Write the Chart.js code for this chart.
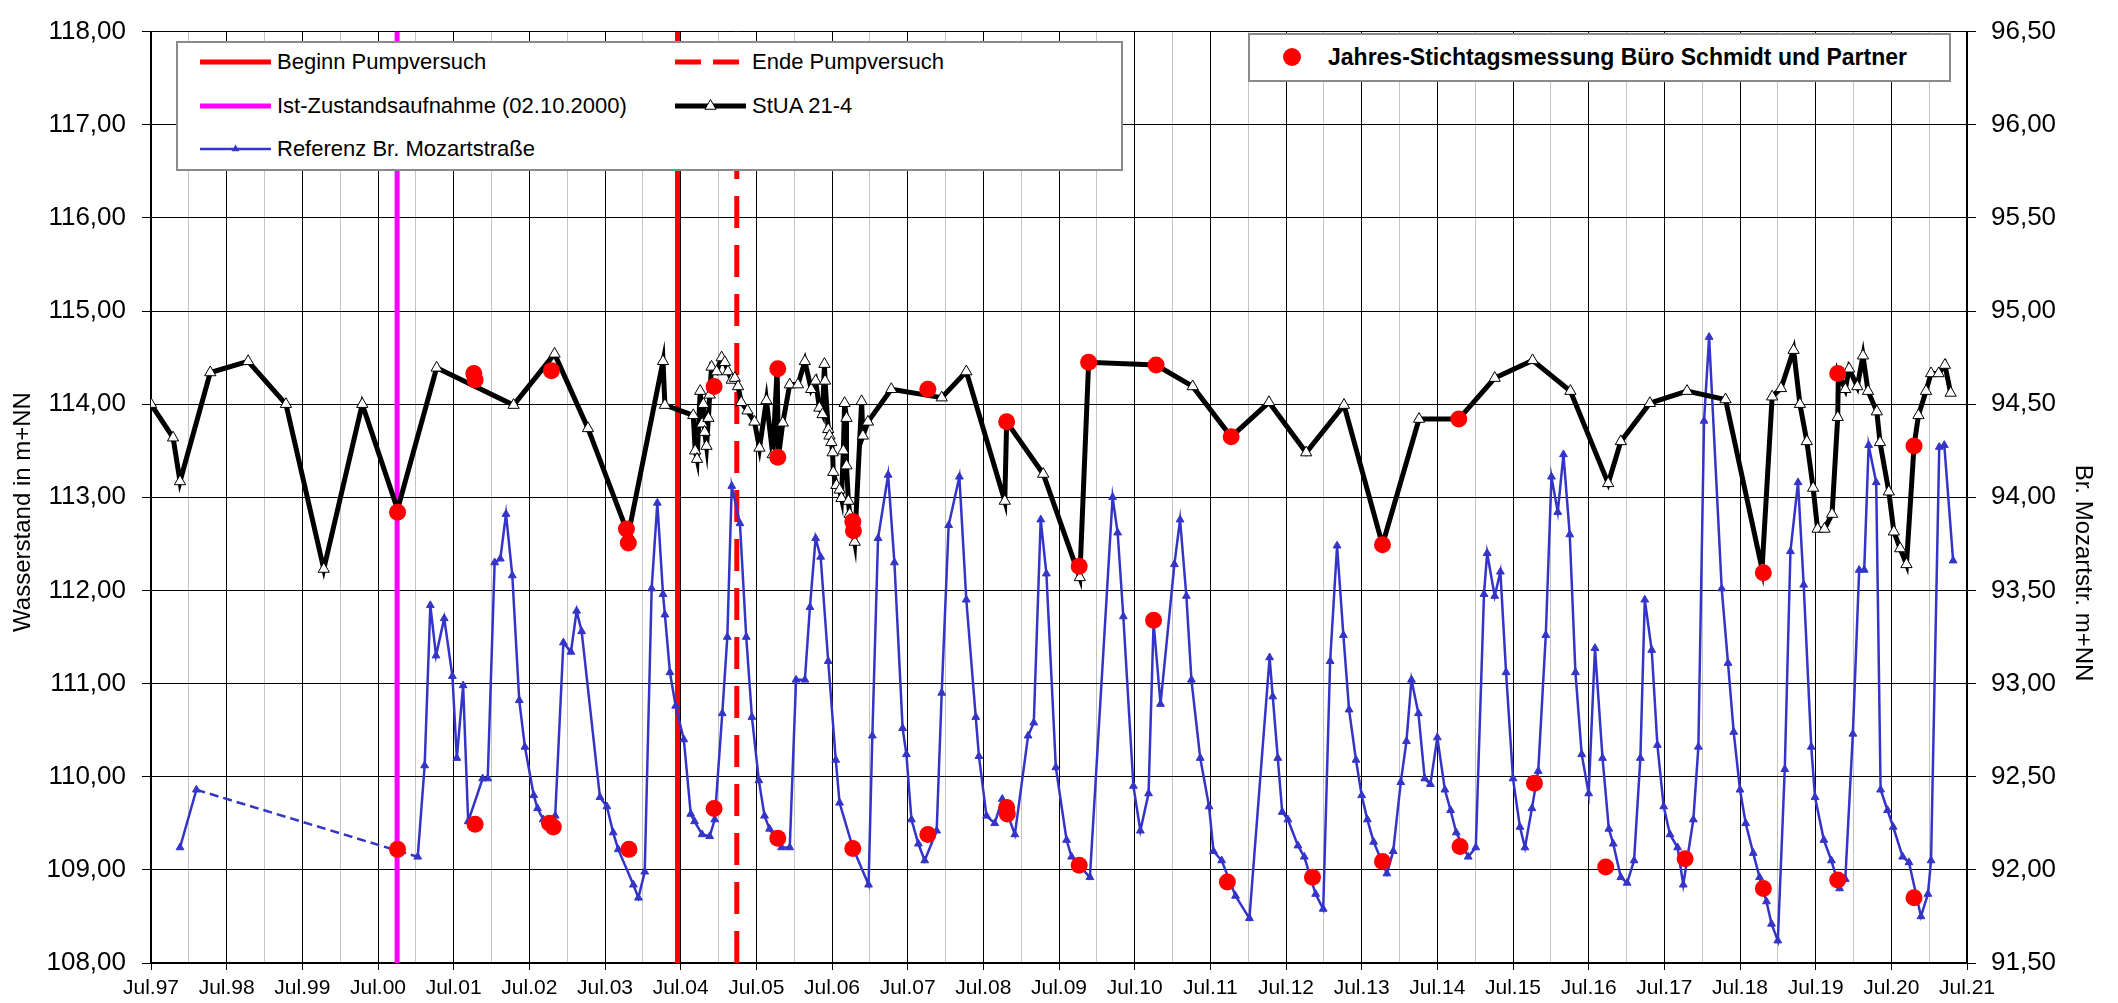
<!DOCTYPE html>
<html>
<head>
<meta charset="utf-8">
<script src="https://cdn.jsdelivr.net/npm/chart.js@4.4.1/dist/chart.umd.min.js"></script>
<style>
  body { margin: 0; background: #fff; font-family: "Liberation Sans", Arial, sans-serif; }
  #wrap { position: relative; width: 2118px; height: 1003px; }
  .box { position: absolute; background: #fff; border: 2px solid #8a8a8a; box-sizing: border-box; }
  .item { position: absolute; display: flex; align-items: center; height: 30px; font-size: 22px; white-space: nowrap; }
  .item svg { margin-right: 6px; }
</style>
</head>
<body>
<div id="wrap">
  <canvas id="chart" width="2118" height="1003"></canvas>
</div>
<script>
// x values are months counted from Jul.97
const yearLabels = ["Jul.97","Jul.98","Jul.99","Jul.00","Jul.01","Jul.02","Jul.03","Jul.04","Jul.05","Jul.06","Jul.07","Jul.08","Jul.09","Jul.10","Jul.11","Jul.12","Jul.13","Jul.14","Jul.15","Jul.16","Jul.17","Jul.18","Jul.19","Jul.20","Jul.21"];

// StUA 21-4 (left axis)
const stuaX = [0,3.5,4.6,9.4,15.4,21.4,27.4,33.5,39.1,45.3,
  57.5,64.0,69.3,75.7,81.2,81.5,86.0,86.3,86.6,87.1,
  87.4,87.6,87.8,88.1,88.4,88.6,88.9,89.7,90.5,91.0,
  91.5,92.1,92.6,93.1,93.6,94.6,95.7,96.5,97.6,98.6,
  99.3,99.5,100.2,101.3,102.6,103.7,104.7,105.4,106.0,106.5,
  106.8,106.9,107.4,107.6,107.9,108.1,108.2,108.7,109.2,109.5,
  109.8,110.0,110.3,110.3,110.6,110.8,111.6,112.7,112.9,113.7,
  117.4,125.4,129.3,135.4,135.7,141.5,147.3,148.7,159.4,165.2,
  171.3,177.3,183.2,189.2,195.3,201.1,207.4,213.1,219.1,225.1,
  231.1,233.1,237.7,243.6,249.7,255.5,257.1,258.5,260.5,261.5,
  262.6,263.6,264.3,265.4,266.6,267.5,267.6,268.7,269.3,270.6,
  271.5,272.3,273.7,274.2,275.6,276.4,277.4,278.4,279.6,280.3,
  281.5,282.3,283.5,284.5,285.4];
const stuaY = [114.0,113.64,113.17,114.34,114.46,114.0,112.23,114.0,112.87,114.39,
  113.99,114.54,113.74,112.6,114.46,113.99,113.88,113.5,113.41,114.14,
  113.79,114.0,113.7,113.55,113.85,114.1,114.4,114.35,114.5,114.45,
  114.35,114.26,114.28,114.19,114.02,113.93,113.81,113.53,114.04,113.46,
  114.38,113.43,113.8,114.21,114.21,114.46,114.16,114.25,113.96,113.89,
  114.43,114.25,113.73,113.66,113.59,113.48,113.27,113.13,113.08,112.99,
  113.5,114.01,113.85,113.34,112.96,112.82,112.52,114.03,113.66,113.81,
  114.16,114.07,114.35,112.96,113.81,113.25,112.14,114.45,114.42,114.19,
  113.65,114.02,113.48,113.99,112.49,113.84,113.84,114.28,114.47,114.14,
  113.15,113.6,114.01,114.14,114.05,112.23,114.08,114.17,114.58,114.0,
  113.6,113.1,112.66,112.66,112.82,113.86,114.33,114.16,114.38,114.19,
  114.52,114.14,113.92,113.59,113.06,112.63,112.45,112.28,113.55,113.88,
  114.14,114.33,114.33,114.42,114.12];

// Referenz Br. Mozartstrasse (right axis)
const refX = [4.6,7.2,42.3,43.4,44.3,45.2,46.5,47.8,48.5,49.5,
  50.3,52.6,53.4,54.5,55.4,56.3,57.3,58.4,59.3,60.7,
  61.3,62.2,63.0,64.1,65.4,66.6,67.5,68.3,71.2,72.3,
  73.3,74.1,76.5,77.3,78.3,79.4,80.3,81.2,81.5,82.3,
  83.2,84.5,85.6,86.2,87.4,88.6,89.4,90.6,91.4,92.1,
  93.4,94.4,95.3,96.4,97.3,98.1,100.0,101.3,102.3,103.7,
  104.5,105.4,106.2,107.4,108.6,109.2,111.3,113.8,114.4,115.3,
  116.9,117.9,119.2,119.8,120.6,121.7,122.7,124.6,125.4,126.5,
  128.2,129.3,130.8,131.3,132.5,133.8,135.0,137.0,139.1,140.0,
  141.1,142.0,143.5,145.2,146.0,148.9,152.5,153.3,154.2,155.8,
  156.9,158.2,159.0,160.1,162.3,163.2,164.2,165.0,166.4,167.8,
  168.5,169.8,172.0,174.2,177.4,177.9,178.7,179.4,180.3,181.9,
  182.9,184.7,185.9,187.0,188.1,189.1,190.0,191.1,192.0,192.9,
  193.9,196.0,197.0,198.2,199.1,199.9,201.0,202.0,202.9,204.0,
  205.2,206.1,207.0,208.9,210.1,211.4,211.9,213.1,214.0,214.9,
  216.0,217.1,217.9,219.0,220.0,221.2,222.1,223.1,224.0,225.0,
  225.9,226.9,228.0,229.0,230.2,231.2,231.9,233.1,234.1,235.2,
  236.2,236.9,238.0,238.9,239.9,240.9,242.1,243.0,244.6,245.4,
  246.3,247.1,249.1,250.1,251.0,252.0,252.9,254.1,255.1,256.2,
  257.0,258.0,259.1,260.0,261.2,262.1,263.3,263.9,265.3,266.5,
  267.8,268.7,269.9,270.9,271.7,272.4,273.6,274.3,275.4,276.3,
  277.8,278.8,280.7,281.8,282.3,283.6,284.4,285.8];
const refY = [92.12,92.43,92.07,92.56,93.42,93.15,93.35,93.04,92.60,92.99,
  92.26,92.49,92.49,93.65,93.67,93.91,93.58,92.91,92.66,92.40,
  92.33,92.27,92.26,92.29,93.22,93.17,93.39,93.28,92.39,92.34,
  92.20,92.11,91.92,91.85,91.99,93.51,93.97,93.48,93.37,93.06,
  92.88,92.70,92.30,92.26,92.19,92.18,92.27,92.84,93.25,94.06,
  93.86,93.25,92.82,92.48,92.29,92.22,92.12,92.12,93.02,93.02,
  93.41,93.78,93.68,93.12,92.59,92.36,92.12,91.92,92.72,93.78,
  94.12,93.65,92.76,92.62,92.27,92.14,92.05,92.21,92.95,93.85,
  94.11,93.45,92.82,92.61,92.29,92.25,92.38,92.19,92.72,92.79,
  93.88,93.59,92.55,92.16,92.07,91.96,94.00,93.81,93.36,92.45,
  92.21,92.41,93.33,92.89,93.64,93.88,93.47,93.02,92.60,92.34,
  92.10,92.05,91.86,91.74,93.14,92.93,92.60,92.31,92.27,92.13,
  92.07,91.87,91.79,93.12,93.74,93.26,92.86,92.59,92.40,92.27,
  92.15,91.98,92.10,92.47,92.69,93.02,92.84,92.49,92.46,92.71,
  92.43,92.32,92.20,92.07,92.12,93.48,93.70,93.47,93.60,93.06,
  92.49,92.23,92.12,92.33,92.53,93.26,94.11,93.92,94.23,93.80,
  93.06,92.62,92.41,93.19,92.60,92.22,92.14,91.96,91.93,92.05,
  92.60,93.45,93.18,92.67,92.34,92.19,92.12,91.92,92.27,92.66,
  94.41,94.86,93.51,93.11,92.74,92.43,92.25,92.09,91.96,91.83,
  91.71,91.62,92.54,93.71,94.08,93.53,92.66,92.39,92.16,92.05,
  91.90,91.95,92.73,93.61,93.61,94.28,94.08,92.43,92.32,92.23,
  92.07,92.04,91.75,91.87,92.05,94.27,94.28,93.66];

// Jahres-Stichtagsmessung (left axis)
const stichX = [39.1,39.1,51.2,51.4,51.4,63.5,63.2,63.8,75.4,75.7,
  75.8,89.3,89.3,99.4,99.4,99.4,111.3,111.4,111.3,123.2,
  123.2,135.7,135.7,135.8,147.2,147.2,148.7,159.4,159.0,171.3,
  170.7,184.2,195.3,195.3,207.4,207.6,219.4,230.7,243.3,255.7,
  255.7,267.5,267.5,279.6,279.6];
const stichY = [112.84,109.22,114.33,114.26,109.49,114.36,109.5,109.46,112.66,112.51,
  109.22,114.19,109.66,114.38,113.43,109.34,112.74,112.64,109.23,114.16,
  109.38,113.81,109.67,109.6,112.26,109.05,114.45,114.42,111.68,113.65,
  108.87,108.92,112.49,109.09,113.84,109.25,109.93,109.03,109.12,112.19,
  108.8,114.33,108.89,113.55,108.7];

// event dates (months from Jul.97)
const istZustand = 39.03;
const beginnPump = 83.5;
const endePump = 92.9;

const pts = (xs, ys) => xs.map((x, i) => ({ x: x, y: ys[i] }));
const vline = (m) => [{ x: m, y: 108 }, { x: m, y: 118 }];
const deComma = (v) => v.toFixed(2).replace(".", ",");

Chart.defaults.font.family = '"Liberation Sans", Arial, sans-serif';
Chart.defaults.color = "#000";

const axisTitles = {
  id: "axisTitles",
  afterDraw(chart) {
    const ctx = chart.ctx;
    ctx.save();
    ctx.font = '24px "Liberation Sans", Arial, sans-serif';
    ctx.fillStyle = "#000";
    ctx.textAlign = "center";
    ctx.textBaseline = "middle";
    ctx.translate(23, 512);
    ctx.rotate(-Math.PI / 2);
    ctx.fillText("Wasserstand in m+NN", 0, 0);
    ctx.restore();
    ctx.save();
    ctx.font = '24px "Liberation Sans", Arial, sans-serif';
    ctx.fillStyle = "#000";
    ctx.textAlign = "center";
    ctx.textBaseline = "middle";
    ctx.translate(2083, 573);
    ctx.rotate(Math.PI / 2);
    ctx.fillText("Br. Mozartstr. m+NN", 0, 0);
    ctx.restore();
  }
};

new Chart(document.getElementById("chart"), {
  type: "line",
  data: {
    datasets: [
      {
        label: "Jahres-Stichtagsmessung Büro Schmidt und Partner",
        data: pts(stichX, stichY),
        yAxisID: "y",
        showLine: false,
        pointRadius: 8.5,
        pointHoverRadius: 8.5,
        pointBackgroundColor: "#ff0000",
        pointBorderWidth: 0,
        order: 0,
      },
      {
        label: "StUA 21-4",
        data: pts(stuaX, stuaY),
        yAxisID: "y",
        borderColor: "#000",
        borderWidth: 5,
        pointStyle: "triangle",
        pointRadius: 6.5,
        pointBackgroundColor: "#fff",
        pointBorderColor: "#000",
        pointBorderWidth: 1,
        order: 1,
      },
      {
        label: "Referenz Br. Mozartstraße",
        data: pts(refX, refY),
        yAxisID: "y2",
        borderColor: "#3434c8",
        borderWidth: 2.5,
        pointStyle: "triangle",
        pointRadius: 4.5,
        pointBackgroundColor: "#3434c8",
        pointBorderColor: "#3434c8",
        pointBorderWidth: 1,
        segment: { borderDash: (c) => (c.p0DataIndex === 1 ? [9, 5] : undefined) },
        order: 2,
      },
      {
        label: "Ist-Zustandsaufnahme (02.10.2000)",
        data: vline(istZustand),
        yAxisID: "y",
        borderColor: "#ff00ff",
        borderWidth: 5,
        pointRadius: 0,
        order: 3,
      },
      {
        label: "Beginn Pumpversuch",
        data: vline(beginnPump),
        yAxisID: "y",
        borderColor: "#ff0000",
        borderWidth: 5,
        pointRadius: 0,
        order: 3,
      },
      {
        label: "Ende Pumpversuch",
        data: vline(endePump),
        yAxisID: "y",
        borderColor: "#ff0000",
        borderWidth: 5,
        borderDash: [32, 17],
        pointRadius: 0,
        order: 3,
      },
    ],
  },
  options: {
    responsive: false,
    animation: false,
    layout: { padding: { top: 19, left: 0, right: 0, bottom: 0 } },
    plugins: { legend: { display: false }, tooltip: { enabled: false } },
    scales: {
      x: {
        type: "linear",
        min: 0,
        max: 288,
        afterFit: (s) => { s.height = 40; },
        ticks: {
          stepSize: 6,
          autoSkip: false,
          maxRotation: 0,
          padding: 6,
          font: { size: 21 },
          callback: (v) => (v % 12 === 0 ? yearLabels[v / 12] : ""),
        },
        grid: {
          color: (c) => (c.tick && c.tick.value % 12 === 0 ? "#000" : "#c4c4c4"),
          tickColor: (c) => (c.tick && c.tick.value % 12 === 0 ? "#000" : "rgba(0,0,0,0)"),
          tickLength: 7,
          lineWidth: 1,
        },
        border: { color: "#000", width: 2 },
      },
      y: {
        position: "left",
        min: 108,
        max: 118,
        afterFit: (s) => { s.width = 151; },
        ticks: { stepSize: 1, padding: 16, font: { size: 26 }, callback: (v) => deComma(v) },
        grid: { color: "#000", lineWidth: 1, tickLength: 9 },
        border: { color: "#000", width: 2 },
      },
      y2: {
        position: "right",
        min: 91.5,
        max: 96.5,
        afterFit: (s) => { s.width = 151; },
        ticks: { stepSize: 0.5, padding: 15, font: { size: 26 }, callback: (v) => deComma(v) },
        grid: { drawOnChartArea: false, color: "#000", tickLength: 9 },
        border: { color: "#000", width: 2 },
      },
    },
  },
  plugins: [axisTitles],
});

// legends
const wrap = document.getElementById("wrap");
function sample(kind) {
  const line = {
    beginn: '<line x1="0" y1="10" x2="71" y2="10" stroke="#ff0000" stroke-width="5"/>',
    ende: '<line x1="0" y1="10" x2="71" y2="10" stroke="#ff0000" stroke-width="5" stroke-dasharray="26 12"/>',
    ist: '<line x1="0" y1="10" x2="71" y2="10" stroke="#ff00ff" stroke-width="5"/>',
    stua: '<line x1="0" y1="10" x2="71" y2="10" stroke="#000" stroke-width="5"/><polygon points="35.5,3.5 41.1,13.25 29.9,13.25" fill="#fff" stroke="#000" stroke-width="1"/>',
    ref: '<line x1="0" y1="10" x2="71" y2="10" stroke="#3434c8" stroke-width="2.5"/><polygon points="35.5,5.5 39.4,12.25 31.6,12.25" fill="#3434c8"/>',
  }[kind];
  return '<svg width="71" height="20" viewBox="0 0 71 20">' + line + "</svg>";
}
function addBox(l, t, w, h) {
  const d = document.createElement("div");
  d.className = "box";
  Object.assign(d.style, { left: l + "px", top: t + "px", width: w + "px", height: h + "px" });
  wrap.appendChild(d);
}
function addItem(x, yc, kind, text) {
  const d = document.createElement("div");
  d.className = "item";
  d.style.left = x + "px";
  d.style.top = yc - 15 + "px";
  d.innerHTML = sample(kind) + "<span>" + text + "</span>";
  wrap.appendChild(d);
}
addBox(176, 41, 947, 130);
addItem(200, 62, "beginn", "Beginn Pumpversuch");
addItem(200, 106, "ist", "Ist-Zustandsaufnahme (02.10.2000)");
addItem(200, 149, "ref", "Referenz Br. Mozartstraße");
addItem(675, 62, "ende", "Ende Pumpversuch");
addItem(675, 106, "stua", "StUA 21-4");

addBox(1248, 33, 703, 49);
const l2 = document.createElement("div");
l2.className = "item";
Object.assign(l2.style, { left: "1283px", top: "42px", fontWeight: "bold", fontSize: "23px" });
l2.innerHTML = '<svg width="18" height="20" viewBox="0 0 18 20" style="margin-right:27px"><circle cx="9" cy="10" r="9" fill="#ff0000"/></svg><span>Jahres-Stichtagsmessung Büro Schmidt und Partner</span>';
wrap.appendChild(l2);
</script>
</body>
</html>
